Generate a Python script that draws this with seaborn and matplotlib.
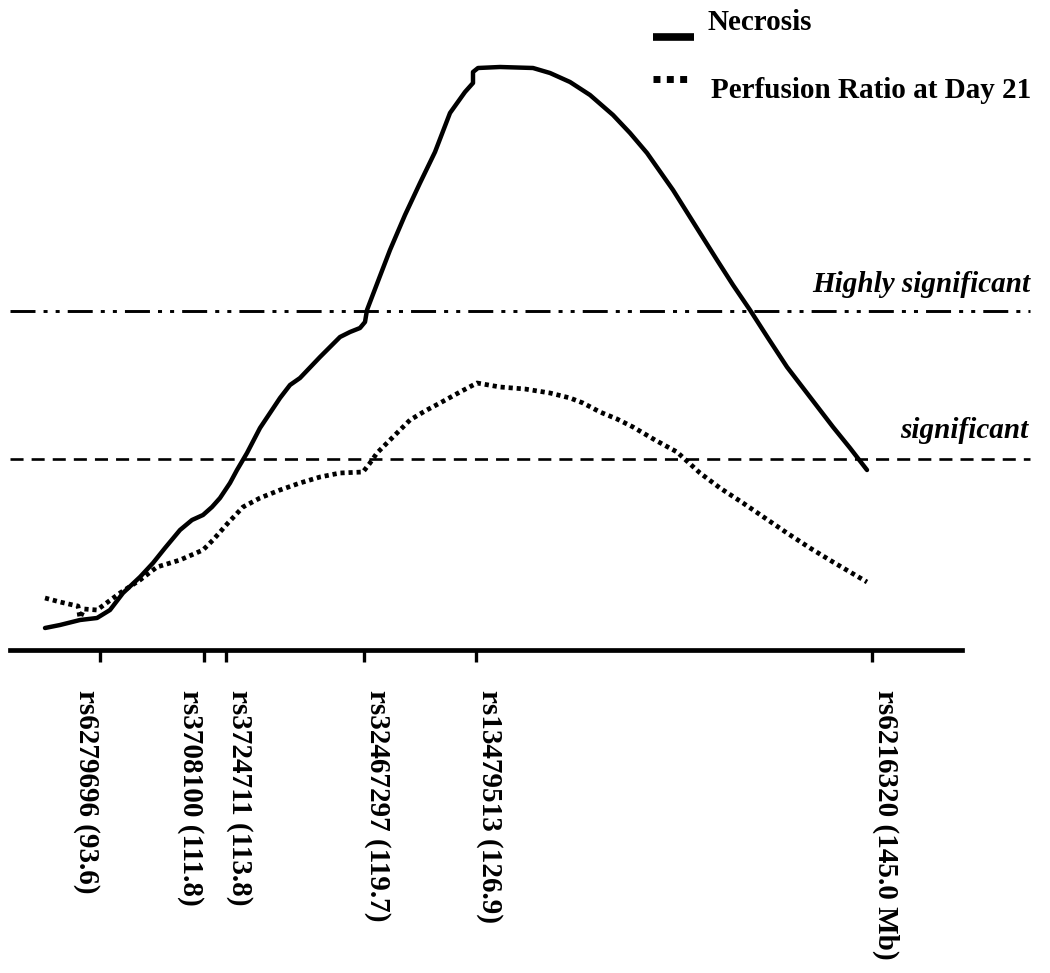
import matplotlib
matplotlib.use("Agg")
import matplotlib.pyplot as plt
import seaborn as sns
import numpy as np
from matplotlib.lines import Line2D

# map position (arbitrary units along the chromosome) and LOD-like score
necrosis_pos = [4.5, 6.0, 8.0, 9.7, 11.0, 12.3, 14.0, 15.3, 16.5, 18.0, 19.2, 20.3,
                21.2, 22.0, 23.0, 23.7, 24.7, 26.0, 27.0, 28.0, 29.0, 30.0, 32.0,
                34.0, 35.0, 36.0, 36.5, 36.7, 38.0, 39.0, 40.5, 42.0, 43.5, 45.0,
                46.5, 47.3, 47.3, 47.8, 50.0, 53.3, 55.0, 57.0, 59.0, 61.3, 63.0,
                64.7, 67.3, 70.0, 71.7, 73.3, 75.0, 76.8, 78.7, 81.0, 83.3, 85.0, 86.7]
necrosis_lod = [0.22, 0.25, 0.30, 0.32, 0.40, 0.57, 0.73, 0.87, 1.02, 1.20, 1.30, 1.35,
                1.43, 1.52, 1.67, 1.80, 1.97, 2.22, 2.37, 2.52, 2.65, 2.72, 2.93,
                3.13, 3.18, 3.22, 3.28, 3.40, 3.74, 4.00, 4.35, 4.67, 4.98, 5.37,
                5.58, 5.67, 5.78, 5.82, 5.83, 5.82, 5.77, 5.68, 5.55, 5.35, 5.17,
                4.97, 4.60, 4.17, 3.90, 3.65, 3.40, 3.12, 2.83, 2.53, 2.23, 2.02, 1.80]

perfusion_pos = [4.5, 6.0, 7.3, 7.8, 8.0, 8.4, 9.7, 12.0, 14.0, 15.7, 18.0, 20.3,
                 21.3, 22.8, 24.3, 26.0, 28.0, 30.0, 32.0, 34.0, 36.3, 37.0, 37.7,
                 39.3, 41.0, 42.5, 44.0, 46.0, 47.7, 50.0, 52.5, 55.0, 57.0, 58.3,
                 60.0, 61.7, 63.3, 65.5, 67.7, 70.0, 72.0, 74.3, 76.5, 78.7, 81.0,
                 83.3, 85.0, 86.7]
perfusion_lod = [0.52, 0.48, 0.45, 0.44, 0.32, 0.41, 0.40, 0.57, 0.70, 0.83, 0.90, 1.00,
                 1.10, 1.27, 1.43, 1.52, 1.60, 1.67, 1.73, 1.77, 1.78, 1.87, 1.97,
                 2.13, 2.30, 2.39, 2.47, 2.58, 2.67, 2.63, 2.61, 2.57, 2.52, 2.47,
                 2.38, 2.31, 2.23, 2.10, 1.98, 1.77, 1.62, 1.47, 1.32, 1.17, 1.02,
                 0.88, 0.78, 0.68]

marker_pos = [10.0, 20.4, 22.6, 36.4, 47.6, 87.2]
marker_labels = ["rs6279696 (93.6)", "rs3708100 (111.8)", "rs3724711 (113.8)",
                 "rs32467297 (119.7)", "rs13479513 (126.9)", "rs6216320 (145.0 Mb)"]
label_align = ["right", "right", "left", "left", "left", "left"]

highly_sig = 3.39
sig = 1.91

sns.set_style("white")
plt.rcParams["font.family"] = ["Liberation Serif", "DejaVu Serif"]
plt.rcParams["lines.scale_dashes"] = False
plt.rcParams["text.color"] = "black"
plt.rcParams["xtick.color"] = "black"
plt.rcParams["xtick.labelcolor"] = "black"

fig = plt.figure(figsize=(10.5, 9.73), dpi=100)
ax = fig.add_axes([0, 1 - 650 / 973, 1, 650 / 973])

sns.lineplot(x=necrosis_pos, y=necrosis_lod, sort=False, estimator=None, ax=ax,
             color="black", lw=3.2, solid_joinstyle="round")
sns.lineplot(x=perfusion_pos, y=perfusion_lod, sort=False, estimator=None, ax=ax,
             color="black", lw=3.4, linestyle=(0, (3.0, 2.8)), dash_capstyle="butt")

ax.plot([1.0, 103.0], [highly_sig, highly_sig], color="black", lw=2.1,
        linestyle=(0, (18, 5.8, 2.9, 5.8, 2.9, 5.8)))
ax.plot([1.0, 103.0], [sig, sig], color="black", lw=1.9,
        linestyle=(0, (9.4, 5.8)))

ax.text(103.0, highly_sig + 0.27, "Highly significant", ha="right", va="center",
        fontsize=21, fontweight="bold", fontstyle="italic")
ax.text(102.8, sig + 0.28, "significant", ha="right", va="center",
        fontsize=21, fontweight="bold", fontstyle="italic")

ax.set_xlim(0, 105)
ax.set_ylim(0, 6.5)
for s in ["top", "right", "left"]:
    ax.spines[s].set_visible(False)
ax.spines["bottom"].set_bounds(1.0, 96.2)
ax.spines["bottom"].set_linewidth(3.4)
ax.spines["bottom"].set_color("black")
ax.set_yticks([])
ax.set_xticks(marker_pos)
ax.set_xticklabels(marker_labels, rotation=270, fontsize=21, fontweight="bold")
for lab, al in zip(ax.get_xticklabels(), label_align):
    lab.set_ha(al)
ax.tick_params(axis="x", direction="out", length=8.6, width=2.4, pad=20,
               bottom=True, color="black")

# legend drawn by hand in figure pixels
fig.add_artist(Line2D([653 / 1050, 694 / 1050], [1 - 37 / 973, 1 - 37 / 973],
                      color="black", lw=5.5, solid_capstyle="butt"))
fig.add_artist(Line2D([653 / 1050, 691 / 1050], [1 - 79 / 973, 1 - 79 / 973],
                      color="black", lw=5.0, linestyle=(0, (5.0, 4.6)),
                      dash_capstyle="butt"))
fig.text(708 / 1050, 1 - 23 / 973, "Necrosis", ha="left", va="center",
         fontsize=21, fontweight="bold")
fig.text(711 / 1050, 1 - 91 / 973, "Perfusion Ratio at Day 21", ha="left",
         va="center", fontsize=21, fontweight="bold")

fig.savefig("out.png", dpi=100, facecolor="white")
